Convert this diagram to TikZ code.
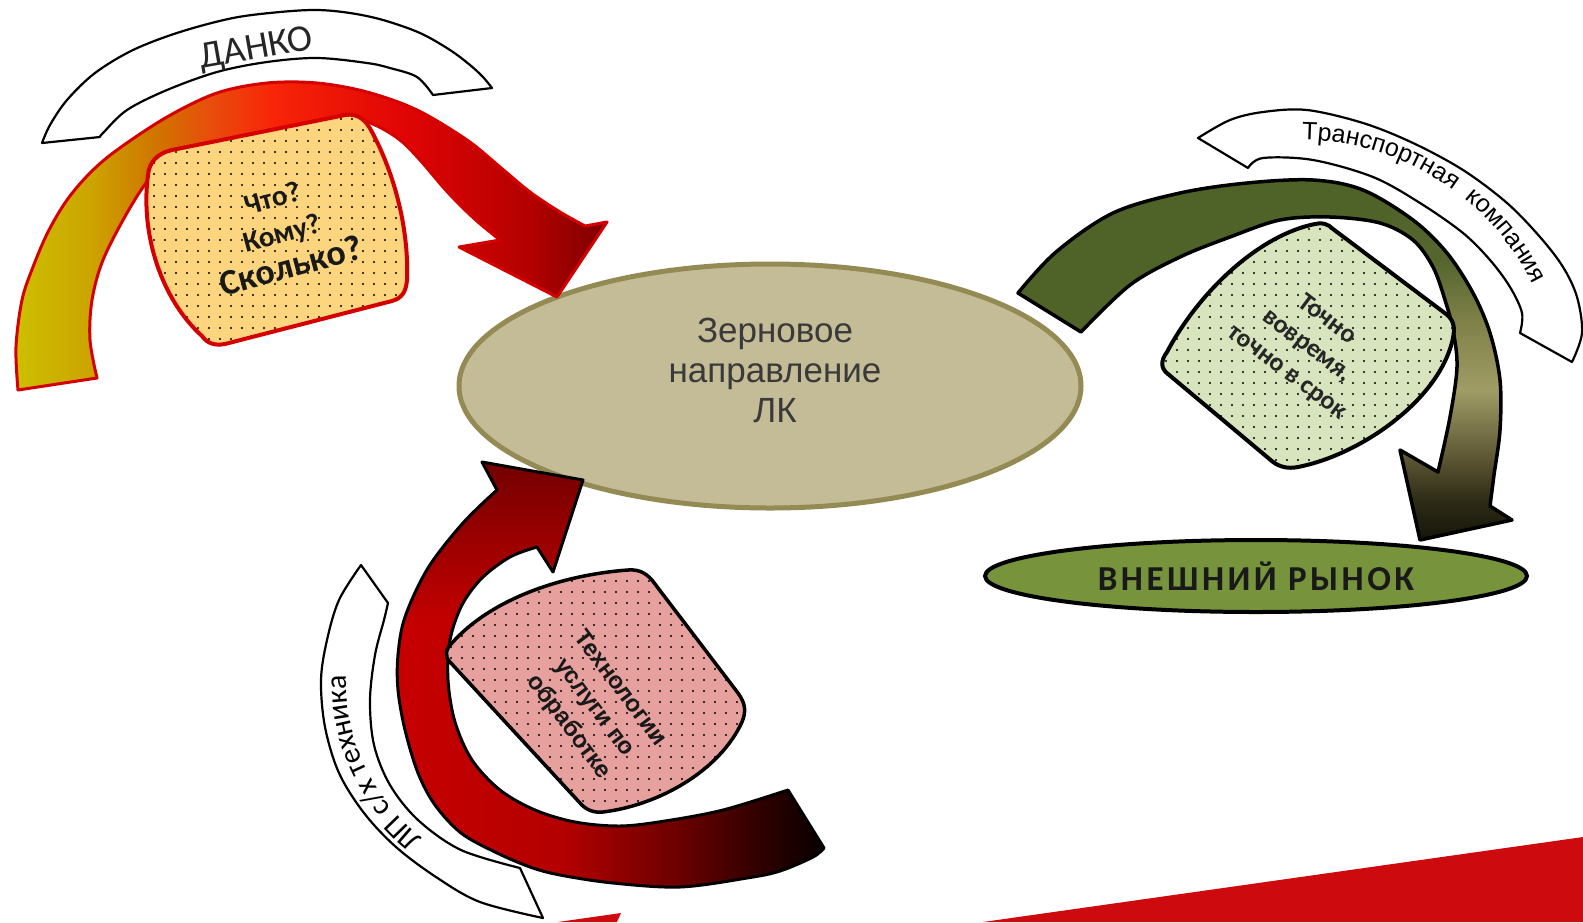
\documentclass[tikz,border=0pt]{standalone}
\usepackage{fontspec}
\setmainfont{Carlito}
\newfontfamily\arialf{Liberation Sans}
\usetikzlibrary{patterns.meta,shapes.geometric}
\definecolor{ellfill}{HTML}{C4BC96}
\definecolor{elldraw}{HTML}{948A54}
\definecolor{mktfill}{HTML}{77933C}
\definecolor{yfill}{HTML}{FCD57E}
\definecolor{gfill}{HTML}{D7E4BD}
\definecolor{pfill}{HTML}{E6A19E}
\definecolor{redline}{HTML}{D40000}
\definecolor{slide}{HTML}{CD0A0E}
\definecolor{olive}{HTML}{4F6228}
\definecolor{txtgray}{HTML}{3A3A3A}
% arrow A colours
\definecolor{cAa}{HTML}{CCC000}
\definecolor{cAb}{HTML}{CCA400}
\definecolor{cAc}{HTML}{D07400}
\definecolor{cAd}{HTML}{EA4A0C}
\definecolor{cAe}{HTML}{F82408}
\definecolor{cAf}{HTML}{E00404}
\definecolor{cAg}{HTML}{B40000}
\definecolor{cAh}{HTML}{7C0000}
% arrow B colours
\definecolor{gBa}{HTML}{121208}
\definecolor{gBb}{HTML}{2E2C16}
\definecolor{gBc}{HTML}{5A5432}
\definecolor{gBd}{HTML}{A09C66}
\definecolor{gBe}{HTML}{7E8048}
\definecolor{gBf}{HTML}{55652E}
% arrow C colours
\definecolor{cCa}{HTML}{C80000}
\definecolor{cCb}{HTML}{B40000}
\definecolor{cCc}{HTML}{6A0000}
\definecolor{cCd}{HTML}{300000}
\definecolor{cCe}{HTML}{050000}
\definecolor{cCtop}{HTML}{700000}
\definecolor{cCbot}{HTML}{C40000}
\pgfdeclarehorizontalshading{shA}{100bp}{color(0bp)=(cAa); color(25bp)=(cAa); color(31.5bp)=(cAb); color(37bp)=(cAc); color(42bp)=(cAd); color(47bp)=(cAe); color(58bp)=(cAf); color(68.5bp)=(cAg); color(75bp)=(cAh); color(100bp)=(cAh)}
\pgfdeclareverticalshading{shB}{100bp}{color(0bp)=(gBa); color(25bp)=(gBa); color(31bp)=(gBb); color(36.3bp)=(gBc); color(45.7bp)=(gBd); color(55bp)=(gBe); color(63bp)=(gBf); color(75bp)=(olive); color(100bp)=(olive)}
\pgfdeclarehorizontalshading{shC}{100bp}{color(0bp)=(cCa); color(25bp)=(cCa); color(44.7bp)=(cCb); color(58.1bp)=(cCc); color(67.1bp)=(cCd); color(75bp)=(cCe); color(100bp)=(cCe)}
\newcommand\fsz[2]{\fontsize{#1}{#2}\selectfont}
% text along a circular arc, characters with estimated widths (em)
% #1 cx, #2 cy, #3 radius, #4 middle angle, #5 font, #6 font size, #7 list char/width, #8 name prefix
\newcommand\arctext[8]{%
  \gdef\arcacc{0}%
  \foreach \ch/\w in {#7}{\pgfmathsetmacro\arcnew{\arcacc+\w}\xdef\arcacc{\arcnew}}%
  \xdef\arctot{\arcacc}%
  \gdef\arcacc{0}%
  \foreach \ch/\w [count=\k] in {#7}{%
    \pgfmathsetmacro\arcang{#4+((\arcacc+0.5*\w-0.5*\arctot)*#6)/(#3)*57.29578}%
    \pgfmathsetmacro\arcrot{-(\arcang+90)}%
    \node[name=#8\k, anchor=base, rotate=\arcrot, inner sep=0pt, outer sep=0pt, font={#5}] at ([shift={(\arcang:#3)}]#1,#2) {\ch};%
    \pgfmathsetmacro\arcnew{\arcacc+\w}\xdef\arcacc{\arcnew}%
  }%
}
% shapes
\def\pathA{plot[smooth,tension=0.55] coordinates {(18,390) (16,347) (22,300) (33,267) (48,232) (67,200) (90,173) (117,150) (167,117) (217,93) (267,83) (317,83) (367,92) (417,110) (467,140) (500,167) (530,192) (560,212) (585,226)} -- (607,222) -- (557,297) -- (459,247) -- plot[smooth,tension=0.55] coordinates {(500,240) (478,222) (460,205) (443,187) (420,160) (400,140) (375,125) (347,117) (300,132) (250,143) (205,152) (175,158) (150,178) (127,213) (103,260) (92,300) (90,340) (97,378)} -- cycle}
\def\pathB{plot[smooth,tension=0.55] coordinates {(1018,293) (1056,252) (1113,213) (1180,193) (1247,183) (1313,180) (1363,190) (1413,220) (1447,253) (1473,293) (1490,333) (1500,380) (1500,430) (1494,475) (1490,506)} -- (1512,520) -- (1420,540) -- (1400,450) -- plot[smooth,tension=0.55] coordinates {(1438,472) (1450,417) (1457,367) (1453,330) (1445,300) (1433,267) (1413,240) (1380,223) (1330,217) (1280,220) (1230,237) (1180,257) (1130,285) (1081,332)} -- cycle}
\def\pathC{plot[smooth,tension=0.55] coordinates {(824,848) (813,857) (780,871) (747,878) (680,887) (613,883) (560,875) (530,867) (495,852) (461,833) (435,805) (418,773) (405,730) (398,690) (398,655) (405,617) (428,568) (463,523) (497,490)} -- (482,462) -- (583,480) -- (553,572) -- plot[smooth,tension=0.55] coordinates {(537,547) (510,557) (482,578) (462,605) (450,640) (448,680) (455,722) (472,760) (500,790) (535,810) (575,822) (620,826) (665,821) (723,810) (788,790)} -- cycle}
\tikzset{
  band/.style={fill=white, draw=black, line width=2.2pt},
  dotted blob/.style={preaction={fill=#1}, pattern={Dots[distance=11pt, radius=1.05pt]}, pattern color=black},
  coretext/.style={font=\arialf\fsz{35}{40}, text=txtgray, align=center},
}
\begin{document}
\begin{tikzpicture}[x=1pt,y=-1pt,line join=round]
\useasboundingbox (0,0) rectangle (1583,922);
% slide decoration
\fill[slide] (983,922) -- (1583,837) -- (1583,922) -- cycle;
\fill[slide] (558,922) -- (621,913) -- (617,922) -- cycle;
% central ellipse
\node[ellipse, draw=elldraw, fill=ellfill, line width=5pt, minimum width=622pt, minimum height=244pt, inner sep=0pt] (core) at (770,386) {};
% white bands
\path[band] plot[smooth,tension=0.55] coordinates {(42,143) (50,125) (67,100) (95,73) (133,50) (180,32) (233,18) (280,12) (317,10) (350,13) (383,20) (420,33) (450,50) (470,65) (483,77) (492,88)} -- plot[smooth,tension=0.55] coordinates {(433,95) (417,77) (390,68) (367,63) (317,58) (267,62) (217,72) (167,90) (127,110) (103,133) (100,137)} -- cycle;
\path[band] plot[smooth,tension=0.55] coordinates {(1198,138) (1230,120) (1263,112) (1307,110) (1363,123) (1413,143) (1463,170) (1507,203) (1540,237) (1563,267) (1577,297) (1582,333) (1572,362)} -- plot[smooth,tension=0.55] coordinates {(1520,333) (1522,313) (1510,287) (1490,260) (1463,233) (1420,203) (1373,177) (1313,160) (1263,158) (1248,168)} -- cycle;
\path[band] plot[smooth,tension=0.55] coordinates {(361,565) (339,600) (327,640) (321,680) (325,727) (339,773) (364,813) (396,847) (436,877) (480,902) (543,918)} -- plot[smooth,tension=0.55] coordinates {(520,868) (461,850) (418,820) (390,785) (374,745) (370,700) (375,655) (384,620) (388,603)} -- cycle;
% arrow A (top left)
\begin{scope}
  \clip \pathA;
  \shade[shading=shA] (14,80) rectangle (607,400);
\end{scope}
\draw[redline, line width=3pt] \pathA;
% arrow B (top right)
\begin{scope}
  \clip \pathB;
  \fill[olive] (1000,170) rectangle (1392,545);
  \shade[shading=shB] (1392,170) rectangle (1530,545);
\end{scope}
\draw[black, line width=3.5pt] \pathB;
% arrow C (bottom)
\begin{scope}
  \clip \pathC;
  \shade[top color=cCtop, bottom color=cCbot] (385,455) rectangle (600,625);
  \shade[shading=shC] (385,625) rectangle (830,895);
\end{scope}
\draw[black, line width=3pt] \pathC;
% blobs
\path[dotted blob=yfill, draw=redline, line width=4pt] (172,150) -- (345,115) .. controls (358,113) and (366,120) .. (372,132) .. controls (395,175) and (409,230) .. (407,280) .. controls (406,292) and (402,298) .. (392,301) -- (225,344) .. controls (214,346) and (207,343) .. (202,336) .. controls (162,300) and (140,235) .. (148,175) .. controls (149,162) and (158,153) .. (172,150) -- cycle;
\path[dotted blob=gfill, draw=black, line width=4pt] (1167,352) .. controls (1200,290) and (1260,235) .. (1315,224) .. controls (1322,222) and (1328,224) .. (1333,229) -- (1446,314) .. controls (1454,320) and (1455,328) .. (1453,338) .. controls (1440,400) and (1360,455) .. (1298,467) .. controls (1288,469) and (1280,467) .. (1273,462) -- (1168,374) .. controls (1160,368) and (1161,360) .. (1167,352) -- cycle;
\path[dotted blob=pfill, draw=black, line width=3.5pt] (452,643) .. controls (490,600) and (560,575) .. (628,570) .. controls (640,569) and (648,574) .. (655,584) -- (738,693) .. controls (746,704) and (746,712) .. (742,722) .. controls (720,770) and (660,805) .. (603,812) .. controls (594,813) and (586,810) .. (580,803) -- (450,662) .. controls (444,656) and (446,649) .. (452,643) -- cycle;
% market ellipse
\node[ellipse, draw=black, fill=mktfill, line width=4pt, minimum width=542pt, minimum height=72pt, inner sep=0pt, font=\bfseries\fsz{35}{36}\addfontfeature{LetterSpace=10}, text=black!90] (market) at (1256,576) {ВНЕШНИЙ РЫНОК};
% texts
\node[coretext] (coretxt) at (775,370) {Зерновое\\направление\\ЛК};
\node[anchor=base, rotate=10, font=\fsz{38}{40}, text=black!85] (danko) at (258,59) {ДАНКО};
\node[rotate=15, align=center, font=\bfseries\fsz{29}{36}, text=black!90] (ytxt) at (282,233) {Что?\\Кому?\\\fsz{36}{36}Сколько?};
\node[rotate=-37, align=center, font=\bfseries\fsz{26}{33}, text=black!85] (gtxt) at (1307,346) {Точно\\вовремя,\\точно в срок};
\node[rotate=-53, align=center, font=\arialf\bfseries\fsz{24}{32}, text=black!90] (ptxt) at (594,708) {Технологии\\услуги по\\обработке};
\arctext{1300}{400}{260}{-58}{\arialf\fsz{25}{25}}{25}{Т/0.611,р/0.556,а/0.556,н/0.546,с/0.5,п/0.546,о/0.556,р/0.556,т/0.438,н/0.546,а/0.556,я/0.538,\ /0.278,\ /0.278,к/0.438,о/0.556,м/0.688,п/0.546,а/0.556,н/0.546,и/0.546,я/0.538}{tk}
\arctext{546}{681}{200}{155}{\fsz{30}{30}}{30}{Л/0.55,П/0.62,\ /0.23,с/0.42,{\slash}/0.39,х/0.43,\ /0.23,т/0.41,е/0.5,х/0.43,н/0.52,и/0.52,к/0.45,а/0.48}{lp}
\end{tikzpicture}
\end{document}
